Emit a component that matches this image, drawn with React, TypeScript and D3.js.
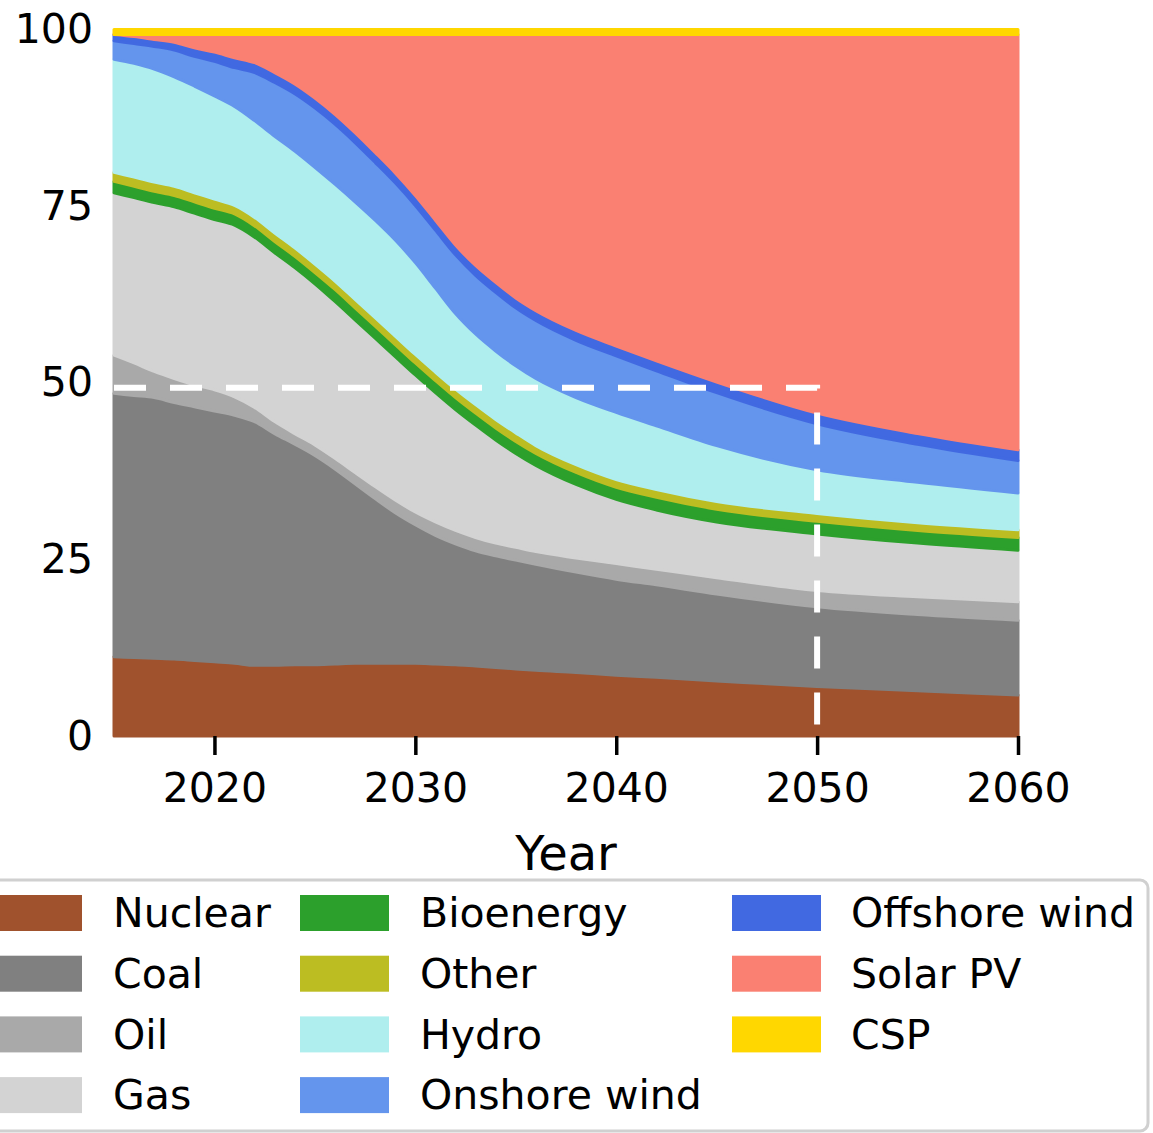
import React, { useEffect, useRef } from 'react'
import * as d3 from 'd3'

// share of generation (%) by source
const years = [2015, 2016, 2017, 2018, 2019, 2020, 2021, 2022, 2023, 2024, 2025, 2026, 2027, 2028, 2029, 2030, 2031, 2032, 2033, 2034, 2035, 2036, 2038, 2040, 2042, 2045, 2050, 2055, 2060]

const nuclear = [11.2, 11.1, 11.0, 10.9, 10.7, 10.5, 10.3, 10.0, 10.0, 10.1, 10.1, 10.2, 10.3, 10.3, 10.3, 10.3, 10.2, 10.1, 9.9, 9.7, 9.5, 9.3, 9.0, 8.6, 8.3, 7.8, 7.0, 6.4, 5.8]
const coal = [37.3, 37.1, 36.9, 36.3, 35.9, 35.5, 35.1, 34.5, 32.8, 31.2, 29.6, 27.6, 25.4, 23.3, 21.3, 19.6, 18.2, 17.1, 16.3, 15.8, 15.4, 15.0, 14.2, 13.6, 13.1, 12.3, 11.3, 10.8, 10.6]
const oil = [5.4, 4.6, 3.7, 3.4, 3.1, 3.0, 2.6, 2.0, 1.7, 1.5, 1.5, 1.5, 1.6, 1.7, 1.8, 1.8, 1.9, 1.9, 1.9, 1.8, 1.8, 1.8, 2.0, 2.2, 2.2, 2.3, 2.3, 2.5, 2.6]
const gas = [23.0, 23.4, 23.9, 24.3, 24.3, 24.1, 24.3, 24.1, 23.9, 23.5, 22.8, 22.2, 21.6, 21.0, 20.3, 19.4, 18.3, 17.1, 15.9, 14.6, 13.3, 12.2, 10.4, 9.1, 8.4, 7.9, 8.0, 7.6, 7.3]
const bioenergy = [1.6, 1.6, 1.6, 1.6, 1.6, 1.6, 1.6, 1.6, 1.6, 1.6, 1.6, 1.7, 1.7, 1.7, 1.7, 1.7, 1.7, 1.7, 1.7, 1.7, 1.7, 1.7, 1.7, 1.7, 1.8, 1.8, 1.8, 1.8, 1.8]
const other = [1.3, 1.3, 1.3, 1.3, 1.3, 1.3, 1.2, 1.2, 1.2, 1.2, 1.2, 1.2, 1.2, 1.2, 1.2, 1.2, 1.2, 1.2, 1.2, 1.2, 1.2, 1.1, 1.1, 1.1, 1.1, 1.1, 1.1, 1.1, 1.1]
const hydro = [16.0, 16.1, 16.0, 15.5, 15.1, 14.6, 14.0, 13.7, 13.7, 13.7, 13.7, 13.7, 13.8, 13.8, 13.6, 13.0, 11.9, 10.7, 10.0, 9.7, 9.5, 9.5, 9.5, 9.5, 9.0, 7.9, 6.2, 5.7, 5.2]
const onshore = [2.6, 2.8, 3.2, 3.8, 4.2, 4.9, 5.5, 6.8, 7.6, 8.1, 8.4, 8.5, 8.4, 8.2, 8.1, 8.1, 8.2, 8.3, 8.3, 8.3, 8.2, 8.2, 8.1, 8.0, 7.8, 7.5, 6.5, 5.4, 4.6]
const offshore = [0.9, 1.0, 1.0, 1.1, 1.2, 1.3, 1.4, 1.4, 1.4, 1.4, 1.4, 1.4, 1.4, 1.4, 1.4, 1.4, 1.4, 1.4, 1.4, 1.4, 1.4, 1.4, 1.4, 1.4, 1.4, 1.5, 1.5, 1.5, 1.5]
const solar = [0.0, 0.3, 0.7, 1.1, 1.9, 2.5, 3.3, 4.0, 5.4, 7.0, 9.0, 11.3, 13.9, 16.7, 19.6, 22.8, 26.3, 29.8, 32.7, 35.1, 37.3, 39.1, 41.9, 44.1, 46.2, 49.2, 53.6, 56.5, 58.8]
const csp = [0.7, 0.7, 0.7, 0.7, 0.7, 0.7, 0.7, 0.7, 0.7, 0.7, 0.7, 0.7, 0.7, 0.7, 0.7, 0.7, 0.7, 0.7, 0.7, 0.7, 0.7, 0.7, 0.7, 0.7, 0.7, 0.7, 0.7, 0.7, 0.7]

const xTicks = [2020, 2030, 2040, 2050, 2060]
const yTicks = [0, 25, 50, 75, 100]

// dashed guide: 2015 -> 2050 at ~49%, then down to 0
const guide: [number, number][] = [[2015, 49.3], [2050, 49.3], [2050, 0]]

const series = [
  { key: 'Nuclear', color: '#a0522d', values: nuclear },
  { key: 'Coal', color: '#808080', values: coal },
  { key: 'Oil', color: '#a9a9a9', values: oil },
  { key: 'Gas', color: '#d3d3d3', values: gas },
  { key: 'Bioenergy', color: '#2ca02c', values: bioenergy },
  { key: 'Other', color: '#bcbd22', values: other },
  { key: 'Hydro', color: '#afeeee', values: hydro },
  { key: 'Onshore wind', color: '#6495ed', values: onshore },
  { key: 'Offshore wind', color: '#4169e1', values: offshore },
  { key: 'Solar PV', color: '#fa8072', values: solar },
  { key: 'CSP', color: '#ffd700', values: csp },
]

const W = 1153
const H = 1133
const font = '"DejaVu Sans", sans-serif'

const App = () => {
  const svgRef = useRef<SVGSVGElement>(null)

  useEffect(() => {
    if (!svgRef.current) return
    const svg = d3.select(svgRef.current)
    svg.selectAll('*').remove()

    const x = d3.scaleLinear().domain([2015, 2060]).range([114, 1018])
    const y = d3.scaleLinear().domain([0, 100]).range([736, 29.5])

    const table = years.map((yr, i) => {
      const row: any = { year: yr }
      series.forEach((s) => (row[s.key] = s.values[i]))
      return row
    })

    const layers = d3.stack<any>().keys(series.map((s) => s.key))(table)

    const area = d3
      .area<any>()
      .x((d) => x(d.data.year))
      .y0((d) => y(d[0]))
      .y1((d) => y(d[1]))
      .curve(d3.curveMonotoneX)

    svg
      .append('g')
      .selectAll('path')
      .data(layers)
      .join('path')
      .attr('fill', (d, i) => series[i].color)
      .attr('stroke', (d, i) => series[i].color)
      .attr('stroke-width', 3)
      .attr('stroke-linejoin', 'round')
      .attr('d', area)

    // dashed guide line
    const line = d3
      .line<[number, number]>()
      .x((d) => x(d[0]))
      .y((d) => y(d[1]))
    svg
      .append('path')
      .attr('d', line(guide))
      .attr('fill', 'none')
      .attr('stroke', 'white')
      .attr('stroke-width', 6)
      .attr('stroke-dasharray', '32,24')

    // x axis
    svg
      .append('g')
      .attr('transform', `translate(0,${y(0)})`)
      .call(
        d3
          .axisBottom(x)
          .tickValues(xTicks)
          .tickSize(19)
          .tickPadding(18)
          .tickFormat(d3.format('d')),
      )
      .call((g) => g.select('.domain').remove())
      .call((g) => g.selectAll('.tick line').attr('stroke', '#000').attr('stroke-width', 3.5))
      .call((g) => g.selectAll('.tick text').attr('fill', '#000'))
      .attr('font-family', font)
      .attr('font-size', 41)

    // y axis
    svg
      .append('g')
      .attr('transform', `translate(${x(2015)},0)`)
      .call(d3.axisLeft(y).tickValues(yTicks).tickSize(0).tickPadding(21))
      .call((g) => g.select('.domain').remove())
      .call((g) => g.selectAll('.tick text').attr('fill', '#000'))
      .attr('font-family', font)
      .attr('font-size', 41)

    svg
      .append('text')
      .attr('x', (x(2015) + x(2060)) / 2)
      .attr('y', 870)
      .attr('text-anchor', 'middle')
      .attr('font-family', font)
      .attr('font-size', 48)
      .text('Year')

    // legend
    const legend = svg.append('g')
    legend
      .append('rect')
      .attr('x', -22)
      .attr('y', 880)
      .attr('width', 1170)
      .attr('height', 251)
      .attr('rx', 8)
      .attr('fill', 'white')
      .attr('stroke', '#d0d0d0')
      .attr('stroke-width', 3)

    const colPatch = [-7, 300, 732]
    const colText = [113, 420, 851]
    const rowStep = 60.7

    series.forEach((s, i) => {
      const c = Math.floor(i / 4)
      const r = i % 4
      legend
        .append('rect')
        .attr('x', colPatch[c])
        .attr('y', 895 + r * rowStep)
        .attr('width', 89)
        .attr('height', 36)
        .attr('fill', s.color)
      legend
        .append('text')
        .attr('x', colText[c])
        .attr('y', 913 + r * rowStep)
        .attr('dy', '0.35em')
        .attr('font-family', font)
        .attr('font-size', 41)
        .text(s.key)
    })
  }, [])

  return (
    <svg
      ref={svgRef}
      width={W}
      height={H}
      style={{ position: 'absolute', left: 0, top: 0, background: 'white' }}
    />
  )
}

export default App
